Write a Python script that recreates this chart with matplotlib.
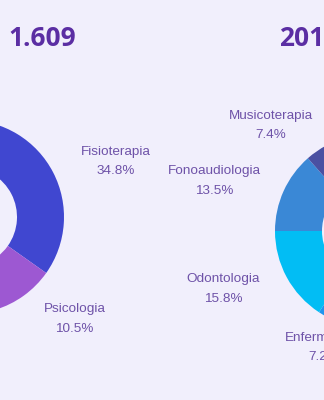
import matplotlib
matplotlib.use("Agg")
import matplotlib.pyplot as plt

# Share of each course (percent)
left_names = ["Fisioterapia", "Psicologia"]
left_pcts = [34.8, 10.5]
left_title = "1.609"

right_names = ["Enfermagem", "Odontologia", "Fonoaudiologia", "Musicoterapia"]
right_pcts = [7.2, 15.8, 13.5, 7.4]
right_title = "2019"

BG = "#f1effc"
TITLE_COLOR = "#5b2ea3"
LABEL_COLOR = "#6e52a8"
left_colors = ["#4047d0", "#9d58d2"]
right_colors = ["#1f95ee", "#02bdf4", "#3a88d6", "#4a50a2"]

W, H = 324, 400
fig = plt.figure(figsize=(W / 100, H / 100), dpi=100, facecolor=BG)
ax = fig.add_axes([0, 0, 1, 1])
ax.set_facecolor(BG)

RADIUS = 97
RING = 47
wedge_style = dict(width=RING, linewidth=0)

# Left donut: clockwise from 12 o'clock
ax.pie([p / 100 for p in left_pcts], colors=left_colors, radius=RADIUS,
       center=(-33, H - 217), startangle=90, counterclock=False,
       normalize=False, wedgeprops=wedge_style)

# Right donut: Fonoaudiologia/Odontologia boundary sits at 9 o'clock
start = 180 + 3.6 * (right_pcts[0] + right_pcts[1])
ax.pie([p / 100 for p in right_pcts], colors=right_colors, radius=RADIUS,
       center=(372, H - 231), startangle=start, counterclock=False,
       normalize=False, wedgeprops=wedge_style)

ax.set_xlim(0, W)
ax.set_ylim(0, H)
ax.set_aspect("equal")
ax.axis("off")

# Label anchors (pixel centres of name line)
left_pos = [(116, 152), (74.5, 309)]
right_pos = [(323.5, 338), (223.5, 279), (214, 171), (271, 116)]

label_font = dict(family="Liberation Sans", fontsize=9.7, color=LABEL_COLOR,
                  ha="center", va="center")
for names, pcts, pos in [(left_names, left_pcts, left_pos),
                         (right_names, right_pcts, right_pos)]:
    for name, pct, (x, y) in zip(names, pcts, pos):
        ax.text(x, H - y, name, **label_font)
        ax.text(x, H - y - 19.5, f"{pct:.1f}%", **label_font)

title_font = dict(family="Open Sans", fontweight="bold", fontsize=19,
                  color=TITLE_COLOR, ha="left", va="center")
ax.text(8, H - 39, left_title, **title_font)
ax.text(279, H - 39, right_title, **title_font)

fig.savefig("out.png", dpi=100, facecolor=BG)
